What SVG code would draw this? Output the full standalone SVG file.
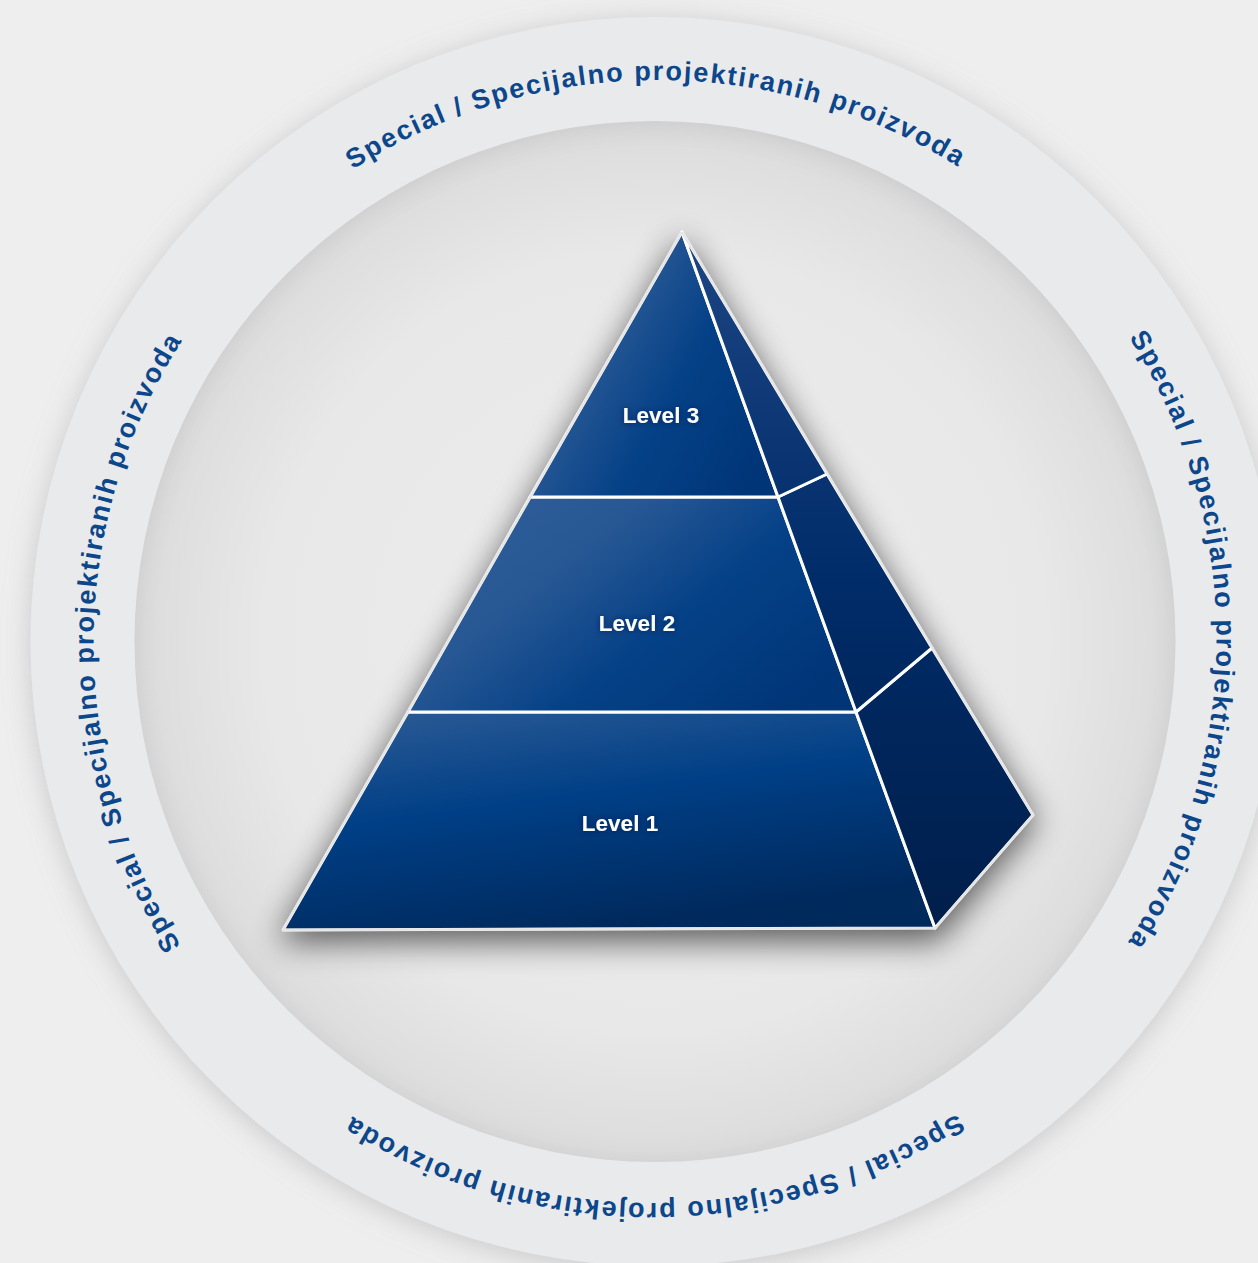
<svg xmlns="http://www.w3.org/2000/svg" xmlns:xlink="http://www.w3.org/1999/xlink" width="1258" height="1263" viewBox="0 0 1258 1263">
  <defs>
    <style>
      .ring { font-family: "Liberation Sans", Arial, sans-serif; font-weight: bold; font-size: 27px; fill: #0c468b; letter-spacing: 1.85px; }
      .lvl { font-family: "Liberation Sans", Arial, sans-serif; font-weight: bold; font-size: 22.5px; fill: #ffffff; text-anchor: middle; }
      .front { stroke: #ffffff; stroke-width: 3; stroke-linejoin: round; }
      .side { stroke: #ffffff; stroke-width: 3; stroke-linejoin: round; }
    </style>
    <filter id="ringShadow" x="-20%" y="-20%" width="140%" height="140%">
      <feGaussianBlur in="SourceAlpha" stdDeviation="14"/>
      <feOffset dx="0" dy="4" result="b"/>
      <feFlood flood-color="#9a9a9a" flood-opacity="0.45"/>
      <feComposite in2="b" operator="in"/>
      <feMerge><feMergeNode/><feMergeNode in="SourceGraphic"/></feMerge>
    </filter>
    <filter id="innerShadow" x="-10%" y="-10%" width="120%" height="120%">
      <feGaussianBlur in="SourceAlpha" stdDeviation="10" result="blur"/>
      <feOffset dx="0" dy="6" result="off"/>
      <feComposite in="SourceAlpha" in2="off" operator="out" result="inv"/>
      <feFlood flood-color="#000000" flood-opacity="0.10"/>
      <feComposite in2="inv" operator="in" result="sh"/>
      <feMerge><feMergeNode in="SourceGraphic"/><feMergeNode in="sh"/></feMerge>
    </filter>
    <filter id="pyrShadow" x="-30%" y="-30%" width="160%" height="160%">
      <feGaussianBlur stdDeviation="16"/>
    </filter>
    <filter id="txtGlow" x="-20%" y="-50%" width="140%" height="200%">
      <feGaussianBlur in="SourceAlpha" stdDeviation="3" result="b"/>
      <feFlood flood-color="#001a40" flood-opacity="0.6"/>
      <feComposite in2="b" operator="in"/>
      <feMerge><feMergeNode/><feMergeNode in="SourceGraphic"/></feMerge>
    </filter>
    <radialGradient id="innerFill" cx="0.5" cy="0.5" r="0.5">
      <stop offset="0" stop-color="#ededed"/>
      <stop offset="0.75" stop-color="#e8e8e8"/>
      <stop offset="0.95" stop-color="#dedede"/>
      <stop offset="1" stop-color="#d8d8d9"/>
    </radialGradient>
    <linearGradient id="gFront" x1="0" y1="0.2" x2="1" y2="0.8">
      <stop offset="0" stop-color="#2f5e98"/>
      <stop offset="0.3" stop-color="#285894"/>
      <stop offset="0.6" stop-color="#054187"/>
      <stop offset="1" stop-color="#003577"/>
    </linearGradient>
    <linearGradient id="gFront1" x1="0.1" y1="0" x2="0.5" y2="1">
      <stop offset="0" stop-color="#2c5b95"/>
      <stop offset="0.45" stop-color="#003f86"/>
      <stop offset="1" stop-color="#00295c"/>
    </linearGradient>
    <linearGradient id="gSide" gradientUnits="userSpaceOnUse" x1="0" y1="232" x2="0" y2="930">
      <stop offset="0" stop-color="#1c4583"/>
      <stop offset="0.5" stop-color="#002c69"/>
      <stop offset="1" stop-color="#001e4a"/>
    </linearGradient>
    <path id="ringPath" d="M 256.2 1040.3 A 564 564 0 0 1 1053.8 242.7 A 564 564 0 0 1 256.2 1040.3"/>
  </defs>

  <rect x="0" y="0" width="1258" height="1263" fill="#eeeeee"/>

  <g id="ring">
    <circle cx="655" cy="641.5" r="624.5" fill="#e9eaec" filter="url(#ringShadow)"/>
    <circle cx="655" cy="641.5" r="520.5" fill="url(#innerFill)" filter="url(#innerShadow)"/>
  </g>

  <g id="ring-labels">
    <text class="ring"><textPath xlink:href="#ringPath" href="#ringPath" startOffset="37.5%" text-anchor="middle">Special / Specijalno projektiranih proizvoda</textPath></text>
    <text class="ring"><textPath xlink:href="#ringPath" href="#ringPath" startOffset="62.5%" text-anchor="middle">Special / Specijalno projektiranih proizvoda</textPath></text>
    <text class="ring"><textPath xlink:href="#ringPath" href="#ringPath" startOffset="87.5%" text-anchor="middle">Special / Specijalno projektiranih proizvoda</textPath></text>
    <text class="ring"><textPath xlink:href="#ringPath" href="#ringPath" startOffset="12.5%" text-anchor="middle">Special / Specijalno projektiranih proizvoda</textPath></text>
  </g>

  <g id="pyramid-shadow">
    <polygon points="682,238 1036,822 937,942 278,942" fill="#000000" opacity="0.6" filter="url(#pyrShadow)"/>
  </g>

  <g id="level1">
    <polygon class="front" points="408,712 856,712 935,928 283,930" fill="url(#gFront1)"/>
    <polygon class="side" points="856,712 932,648 1033,815 935,928" fill="url(#gSide)"/>
    <text class="lvl" x="620" y="831" filter="url(#txtGlow)">Level 1</text>
  </g>

  <g id="level2">
    <polygon class="front" points="530,497 778,497 856,712 408,712" fill="url(#gFront)"/>
    <polygon class="side" points="778,497 827,474 932,648 856,712" fill="url(#gSide)"/>
    <text class="lvl" x="637" y="631" filter="url(#txtGlow)">Level 2</text>
  </g>

  <g id="level3">
    <polygon class="front" points="682,232 778,497 530,497" fill="url(#gFront)"/>
    <polygon class="side" points="682,232 827,474 778,497" fill="url(#gSide)"/>
    <text class="lvl" x="661" y="423" filter="url(#txtGlow)">Level 3</text>
  </g>

  <g id="pyramid-outline" fill="none" stroke="#e6e6e6" stroke-width="2.5" stroke-linejoin="round">
    <polyline points="682,232 283,930 935,928 1033,815 682,232"/>
  </g>
</svg>
